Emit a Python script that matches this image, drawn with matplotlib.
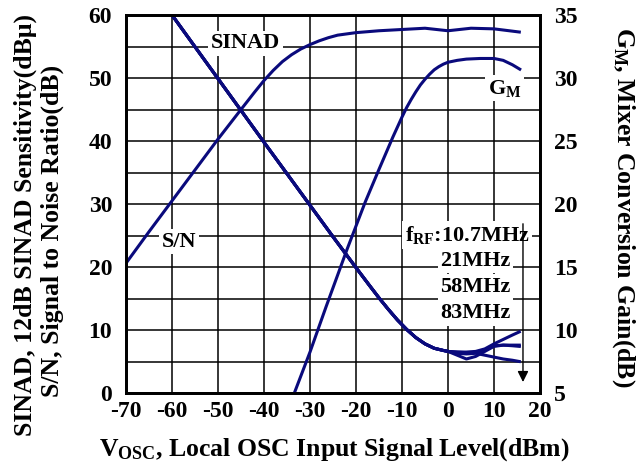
import matplotlib
matplotlib.use("Agg")
import matplotlib.pyplot as plt
import numpy as np

plt.rcParams['font.family'] = 'Liberation Serif'
plt.rcParams['font.weight'] = 'bold'
plt.rcParams['axes.unicode_minus'] = False
plt.rcParams['mathtext.fontset'] = 'custom'
plt.rcParams['mathtext.rm'] = 'Liberation Serif:bold'
plt.rcParams['mathtext.bf'] = 'Liberation Serif:bold'
plt.rcParams['mathtext.it'] = 'Liberation Serif:bold:italic'

# SINAD sensitivity (dBu) for each RF frequency, left axis
sinad_x = [-60, -50, -40, -30, -25, -20, -17, -15, -13, -11, -9, -7, -5,
           -3, -1, 0, 2, 4, 6, 8, 10, 12, 14, 15.5]
sinad_common = [60.0, 49.9, 39.8, 29.8, 24.8, 19.9, 17.0, 15.1, 13.3, 11.6,
                10.1, 8.8, 7.8, 7.1, 6.75, 6.6]
sinad_10_7 = sinad_common + [6.5, 6.5, 6.6, 7.0, 7.8, 8.5, 9.2, 9.7]
sinad_21 = sinad_common + [6.5, 6.4, 6.4, 6.8, 7.5, 7.6, 7.6, 7.6]
sinad_58 = sinad_common + [6.3, 6.2, 6.3, 6.0, 5.7, 5.4, 5.2, 5.0]
sinad_83 = sinad_common + [6.0, 5.4, 5.8, 6.6, 7.4, 7.6, 7.5, 7.4]

# S/N (dB), left axis
sn_x = [-70, -65, -60, -55, -50, -45, -42, -40, -38, -36, -34, -32, -30,
        -28, -26, -24, -22, -20, -15, -10, -5, 0, 5, 10, 15.5]
sn_y = [20.6, 25.6, 30.5, 35.4, 40.3, 45.0, 47.8, 49.6, 51.2, 52.6, 53.7,
        54.6, 55.3, 55.9, 56.4, 56.8, 57.0, 57.2, 57.5, 57.7, 57.9, 57.5,
        57.9, 57.8, 57.3]

# mixer conversion gain (dB), right axis
gm_x = [-33.4, -30, -26.5, -22, -18, -15, -12, -10, -9, -8, -7, -6, -5, -4,
        -3, -2, -1, 0, 2, 4, 7, 10, 12, 14, 15.6]
gm_y = [5.0, 8.25, 11.85, 16.35, 20.15, 22.75, 25.3, 26.9, 27.65, 28.3,
        28.9, 29.45, 29.9, 30.3, 30.65, 30.9, 31.1, 31.25, 31.4, 31.5, 31.55,
        31.55, 31.4, 31.05, 30.7]

x_ticks = list(range(-70, 21, 10))
left_ticks = list(range(0, 61, 10))
right_ticks = list(range(5, 36, 5))
freq_labels = ['21MHz', '58MHz', '83MHz']

navy = '#0a0a7c'
W, H = 643, 466
fig = plt.figure(figsize=(W / 100, H / 100), dpi=100)
ax = fig.add_axes([126 / W, 73 / H, 414 / W, 378 / H])

for ys in (sinad_10_7, sinad_21, sinad_58, sinad_83):
    ax.plot(sinad_x, ys, color=navy, lw=2.2, zorder=2)
ax.plot(sn_x, sn_y, color=navy, lw=2.2, zorder=2)

ax.set_xlim(-70, 20)
ax.set_ylim(0, 60)
ax.set_xticks(x_ticks)
ax.set_yticks(left_ticks)
ax.set_yticks(np.arange(5, 60, 10), minor=True)
ax.grid(which='both', color='black', lw=1.1, zorder=0.5)
ax.set_axisbelow(True)
ax.tick_params(axis='both', which='both', length=0, labelsize=17)
ax.tick_params(axis='y', pad=10)
ax.tick_params(axis='x', pad=6)
for s in ax.spines.values():
    s.set_linewidth(2.0)

ax2 = ax.twinx()
ax2.plot(gm_x, gm_y, color=navy, lw=2.2, zorder=2)
ax2.set_ylim(5, 35)
ax2.set_yticks(right_ticks)
ax2.tick_params(axis='y', length=0, labelsize=17, pad=10)
for s in ax2.spines.values():
    s.set_linewidth(2.0)

box = dict(facecolor='white', edgecolor='none', pad=2)
ax.text(-44, 55.5, 'SINAD', fontsize=16, ha='center', va='center',
        bbox=box, zorder=3)
ax.text(-58.5, 24, 'S/N', fontsize=16, ha='center', va='center',
        bbox=box, zorder=3)
ax.text(12.3, 48.4, r'G$_{\mathrm{M}}$', fontsize=16, ha='center',
        va='center', bbox=box, zorder=3)
ax.text(-9.4, 25.1, r'f$_{\mathrm{RF}}$:10.7MHz', fontsize=16, ha='left',
        va='center', bbox=box, zorder=3)
for lab, yy in zip(freq_labels, [21.0, 16.8, 12.7]):
    ax.text(-1.7, yy, lab, fontsize=16, ha='left', va='center',
            bbox=box, zorder=3)
ax.annotate('', xy=(16.3, 1.3), xytext=(16.3, 27.3),
            arrowprops=dict(arrowstyle='-|>', color='black', lw=1,
                            mutation_scale=16), zorder=4)

fig.text(25 / W, 1 - 225 / H, 'SINAD, 12dB SINAD Sensitivity(dBμ)',
         rotation=90, ha='center', va='center', fontsize=18.5)
fig.text(52 / W, 1 - 231 / H, 'S/N, Signal to Noise Ratio(dB)',
         rotation=90, ha='center', va='center', fontsize=18.5)
fig.text(623 / W, 1 - 207 / H, r'G$_{\mathrm{M}}$, Mixer Conversion Gain(dB)',
         rotation=-90, ha='center', va='center', fontsize=18.5)
fig.text(334 / W, 1 - 456 / H,
         r'V$_{\mathrm{OSC}}$, Local OSC Input Signal Level(dBm)',
         ha='center', va='baseline', fontsize=18.5)

fig.savefig('out.png', dpi=100)
